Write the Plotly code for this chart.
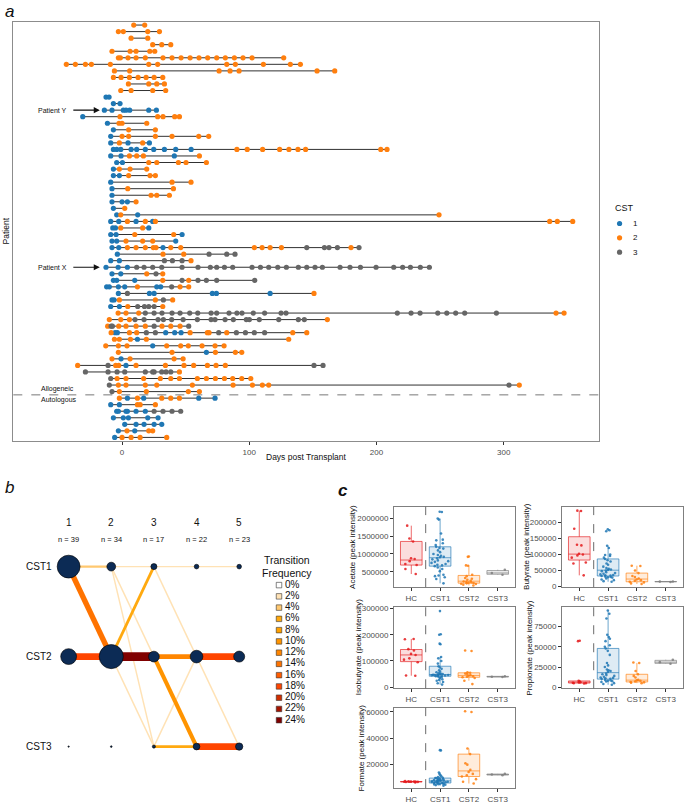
import plotly.graph_objects as go

W, H = 685, 804
FONT = "Liberation Sans, Arial, sans-serif"


def fx(p):
    return p / W


def fy(p):
    return 1 - p / H


# ---------------- Panel a data: sampling days per patient, split by CST ----------------
cst1_days = [
    [], [], [], [], [], [], [], [], [], [], [],
    [-12.6, -10.2],
    [-6.8, -1.6],
    [-13.9, -7.9, 1.0, 3.1, 6.0, 21.0, 27.0],
    [-30.9],
    [-11.5],
    [-6.8],
    [-8.9],
    [-8.9, 4.7, 21.5],
    [-6.8, -4.2, -1.0, 7.1, 11.5, 18.3, 24.9, 33.3, 42.2, 54.3],
    [-8.9, -0.8, 41.1],
    [-4.2, 0.3],
    [-6.8],
    [-6.8, -2.1],
    [-8.9],
    [-7.9],
    [-7.9],
    [-7.9, 0.0, 4.2],
    [-6.8],
    [-4.2, 12.3],
    [-8.9, -2.6, 11.0, 24.1],
    [-7.3, -5.2, 21.0],
    [-8.9, -4.7, 47.2],
    [-7.9, -4.2, 42.2],
    [-7.9, -2.6, 32.2],
    [-3.7],
    [-8.9, -2.1],
    [-12.6, -3.1, 4.2],
    [-7.9, -1.0],
    [-6.8, -4.2, 10.0],
    [-12.1, -10.0, -2.9, 2.1, 27.3, 30.4],
    [-2.9, 21.5, 25.2, 71.0, 74.2, 116.4],
    [-7.9, -6.3],
    [-8.9, -2.1],
    [], [], [],
    [-5.5, -3.7, 34.3, 41.4, 46.4],
    [12.1],
    [24.1],
    [66.3],
    [-0.8],
    [3.1],
    [], [], [], [],
    [4.2, 17.0, 60.3, 73.1],
    [-8.9, -2.1],
    [-4.2, -2.9, 3.1, 4.2, 11.0, 18.3],
    [-6.8, 1.0, 5.0, 20.2, 28.3],
    [2.1, 11.0, 17.3, 25.2, 31.2],
    [-2.9, 10.0],
    [-5.8],
]

cst2_days = [
    [9.2, 17.8],
    [-2.9, 1.0, 20.2, 29.4],
    [7.1, 20.2],
    [24.1, 31.2, 38.3],
    [-7.9, 6.3, 11.0, 21.8, 25.7],
    [-2.9, -1.3, 4.7, 11.0, 18.3, 32.2, 39.3, 46.4, 53.5, 60.5, 67.3, 74.4, 81.2, 88.3, 95.1, 102.2, 127.1],
    [-43.8, -36.7, -28.8, -24.1, -9.2, 21.0, 28.0, 82.3, 89.1, 111.1, 132.3, 140.2],
    [-6.0, 6.0, 76.3, 84.9, 92.0, 153.3, 167.2],
    [-6.8, -0.8, 5.8, 12.6, 18.9, 25.2, 32.0],
    [5.0, 21.0, 27.3, 33.3],
    [-1.0, 7.1, 24.1, 34.3],
    [],
    [],
    [],
    [-1.6, 28.0, 32.2, 41.4, 45.1],
    [-2.4, 0.0, 19.4],
    [5.2, 26.2],
    [0.0, 5.2, 26.2, 39.3, 60.3, 68.1],
    [-2.1, 16.2],
    [90.3, 98.4, 110.5, 123.9, 131.2, 138.3, 144.3, 203.4, 208.3],
    [5.8, 11.5, 16.8, 60.8],
    [21.0, 27.3, 44.3, 50.3, 66.3],
    [-2.1, 6.3, 19.4],
    [5.2, 22.0, 26.2],
    [39.3, 54.2],
    [4.5, 40.4],
    [22.8, 27.3, 37.2],
    [11.0],
    [2.1],
    [-1.0, 249.2],
    [4.2, 18.3, 26.2, 336.2, 342.2, 354.3],
    [-1.0, 16.2],
    [10.0, 40.6],
    [3.1, 16.2, 24.1],
    [4.2, 11.0, 18.3, 24.6, 26.7, 38.3, 46.1, 104.0, 110.1, 116.4, 125.3, 180.0],
    [32.2, 48.5],
    [54.2],
    [],
    [19.4, 32.0],
    [32.0, 52.4],
    [12.1, 45.6, 52.4],
    [150.9],
    [-2.1, 26.2, 39.8],
    [4.5, 32.0],
    [-3.1, 3.1, 13.1, 341.2, 347.5],
    [-10.0, -1.0, 5.8, 161.4],
    [-11.3, -2.6, 3.1, 11.0, 18.3, 31.4, 38.3, 45.6],
    [-8.6, 5.8, 11.5, 53.5, 67.1, 68.4, 82.3, 134.2, 145.2],
    [-6.0, -2.1, 6.6, 19.1, 131.0],
    [-12.8, -2.9, 3.9, 35.1, 46.1, 52.1, 62.9, 73.1, 80.2],
    [-2.9, 39.3, 73.4, 89.1, 94.1],
    [-7.9, 6.3, 40.9, 48.0],
    [-34.9, -5.0, -2.6, 11.0, 34.1, 48.7, 56.3, 67.1, 73.9, 81.2],
    [45.1],
    [-3.9, 3.1, 17.0, 30.1, 38.3, 45.1, 59.2, 66.3, 73.4, 80.5, 87.0, 94.1, 101.2],
    [-2.9, 3.1, 18.3, 27.3, 55.3, 87.3, 102.5, 110.3, 115.3, 312.3],
    [-2.1, 19.1, 52.1, 60.8],
    [-2.1, 12.1, 31.2, 38.3, 45.1],
    [12.1, 14.2, 26.2],
    [],
    [],
    [],
    [3.9, 21.0, 24.1],
    [0.0, 7.1, 14.2, 35.1],
]

cst3_days = [
    [], [], [], [], [], [], [], [], [], [],
    [], [], [], [], [], [], [], [], [], [],
    [], [], [], [], [], [], [], [], [], [],
    [], [], [], [],
    [145.2, 159.1, 162.7, 169.3, 186.3],
    [68.4, 82.3, 88.8],
    [33.3, 39.6, 47.2],
    [11.5, 17.3, 24.1, 31.2, 47.2, 59.7, 69.4, 74.4, 80.5, 87.0, 102.2, 108.8, 115.3, 122.4,
     129.2, 138.6, 145.2, 151.7, 157.5, 171.4, 179.2, 187.4, 199.7, 213.6, 220.6, 226.7, 234.5, 241.6],
    [26.7],
    [47.2, 59.7, 66.3, 74.4, 104.3],
    [39.0],
    [4.2],
    [32.5],
    [12.3, 17.6, 21.0, 25.2],
    [18.3, 25.2, 31.4, 39.3, 45.6, 53.2, 59.5, 70.0, 74.4, 84.1, 90.3, 94.3, 103.2, 112.1, 125.0,
     128.9, 216.4, 227.2, 234.3, 248.2, 255.3, 262.3, 269.4, 294.3],
    [10.2, 17.3, 28.3, 32.5, 39.0, 48.0, 59.2, 70.0, 73.1, 81.0, 87.5, 97.7, 100.1, 107.9, 123.2,
     138.6, 143.3],
    [-8.6, -7.6, 25.2, 52.4],
    [19.1, 26.2, 76.0, 89.9, 97.0, 104.0, 112.1],
    [],
    [],
    [],
    [],
    [-11.0, 150.9, 158.0],
    [-28.8, -11.0, -3.9, 2.1, 18.3, 24.1, 25.2, 31.2, 34.6, 38.3],
    [-8.9],
    [-10.0, 304.2],
    [-7.9],
    [],
    [],
    [25.2, 32.2, 39.3, 46.1],
    [],
    [],
    [],
    [],
]

n_allogeneic = 57
patient_x_row = 38
patient_y_row = 14
cst_colors = ["#1F77B4", "#FF7F0E", "#666666"]
cst_labels = ["1", "2", "3"]

# ---------------- Panel b data ----------------
timepoints = [1, 2, 3, 4, 5]
timepoint_n = [39, 34, 17, 22, 23]
node_weight = {  # per CST (1,2,3) per timepoint
    1: [27, 4, 1.9, 1.1, 1.1],
    2: [13, 30, 6, 8.3, 6.3],
    3: [0.1, 0.15, 0.5, 2.3, 2.8],
}
edge_time = [1, 1, 1, 2, 2, 2, 2, 2, 2, 3, 3, 3, 3, 3, 3, 4, 4, 4, 4]
edge_from = [1, 1, 2, 1, 1, 1, 2, 2, 2, 1, 1, 2, 2, 3, 3, 1, 2, 2, 3]
edge_to = [1, 2, 2, 1, 2, 3, 1, 2, 3, 1, 2, 2, 3, 2, 3, 1, 2, 3, 3]
edge_freq = [4, 14, 18, 2, 2, 2, 6, 24, 2, 2, 2, 12, 10, 2, 6, 2, 18, 2, 18]
freq_levels = [0, 2, 4, 6, 8, 10, 12, 14, 16, 18, 20, 22, 24]
freq_colors = ["#FFFFFF", "#FFE2B5", "#FFC870", "#FFA90F", "#FFA000", "#FF9400", "#FF8600",
               "#FF7300", "#FF5C00", "#FF4500", "#D02E00", "#A61500", "#800000"]

# ---------------- Panel c data ----------------
groups = ["HC", "CST1", "CST2", "CST3"]
group_colors = ["#E41A1C", "#1F77B4", "#FF7F0E", "#7F7F7F"]

acetate = {
    "HC": [440000, 580000, 690000, 720000, 800000, 860000, 880000, 1350000, 1430000, 1790000],
    "CST1": [2180000, 2170000, 1990000, 1960000, 1570000, 1400000, 1380000, 1300000, 1250000, 1200000,
             1170000, 1150000, 1100000, 1050000, 1000000, 970000, 950000, 920000, 910000,
             880000, 850000, 820000, 800000, 780000, 750000, 720000, 700000, 680000, 660000,
             620000, 580000, 520000, 420000, 400000, 380000, 350000, 300000, 180000],
    "CST2": [930000, 920000, 680000, 670000, 420000, 380000, 330000, 310000, 280000, 250000,
             230000, 220000, 210000, 200000, 190000, 180000, 170000, 160000, 140000, 120000],
    "CST3": [420000, 470000, 560000],
}
butyrate = {
    "HC": [236000, 235000, 180000, 130000, 128000, 102000, 100000, 97000, 90000, 75000, 72000, 35000],
    "CST1": [178000, 175000, 172000, 127000, 120000, 100000, 98000, 95000, 90000, 86000,
             82000, 78000, 72000, 68000, 62000, 58000, 55000, 53000, 52000,
             50000, 48000, 45000, 42000, 40000, 38000, 36000, 35000, 34000, 33000,
             31000, 30000, 29000, 28000, 25000, 22000, 20000, 17000, 15000],
    "CST2": [65000, 64000, 50000, 42000, 33000, 30000, 25000, 22000, 20000, 18000, 15000, 13000, 10000, 8000],
    "CST3": [14500, 15500, 16000],
}
isobutyrate = {
    "HC": [184000, 183000, 145000, 140000, 127000, 123000, 110000, 105000, 95000, 45000, 44000],
    "CST1": [290000, 202000, 200000, 166000, 164000, 115000, 110000, 100000, 90000, 80000,
             75000, 70000, 65000, 60000, 57000, 54000, 52000, 50000, 49000,
             48000, 47500, 47000, 46500, 46000, 45500, 45000, 44000, 43000, 42000,
             40000, 38000, 35000, 30000, 28000, 25000, 20000, 15000, 10000],
    "CST2": [140000, 138000, 57000, 55000, 52000, 50000, 46000, 44000, 42000, 40000, 38000, 35000, 25000, 12000],
    "CST3": [39000, 40000, 42000],
}
propionate = {
    "HC": [57500, 57000, 8000, 7000, 6500, 6000, 6000, 5500, 5000, 5000, 4500],
    "CST1": [95000, 91000, 85000, 65000, 62000, 60000, 57000, 52000, 50000, 48000,
             45000, 40000, 30000, 27000, 25000, 22000, 21000, 20000, 19000,
             17000, 16000, 15000, 14000, 13000, 12000, 11500, 11000, 10500, 10000,
             9000, 8500, 8000, 7500, 7000, 6500, 5000, 4000, 3000],
    "CST2": [30500, 30000, 20000, 16000, 14000, 12000, 9000, 8500, 8000, 7000, 6500, 6000, 5500, 5000],
    "CST3": [29000, 31000, 34000],
}
formate = {
    "HC": [6500, 6800, 7000, 7000, 7100, 7200, 7300, 7500, 6900, 7100],
    "CST1": [31000, 30800, 14000, 13000, 12000, 11000, 10500, 10000, 9900, 9800,
             9500, 9000, 8800, 8500, 8300, 8100, 8000, 7900, 7800,
             7600, 7400, 7200, 7000, 6900, 6800, 6700, 6500, 6300, 6100,
             6000, 5800, 5600, 5400, 5200, 5000, 4800, 4500, 4000],
    "CST2": [60500, 60000, 32200, 28000, 21000, 20000, 16000, 14500, 13000, 12000, 11000, 9000, 7000, 5700],
    "CST3": [12000, 12500, 13000],
}

fig = go.Figure()
annotations = []
shapes = []
layout_axes = {}


def note(text, x, y, xref="paper", yref="paper", size=8, xanchor="center", yanchor="middle", **kw):
    d = dict(text=text, x=x, y=y, xref=xref, yref=yref, showarrow=False, xanchor=xanchor,
             yanchor=yanchor, font=dict(size=size, color="#111"))
    d.update(kw)
    annotations.append(d)


# ================= Panel a =================
lx, ly = [], []
for i in range(len(cst2_days)):
    d = cst1_days[i] + cst2_days[i] + cst3_days[i]
    lx += [min(d), max(d), None]
    ly += [i + 1, i + 1, None]
fig.add_trace(go.Scatter(x=lx, y=ly, mode="lines", line=dict(color="#1a1a1a", width=0.9),
                         hoverinfo="skip", showlegend=False, xaxis="x", yaxis="y"))
for days, col in zip([cst1_days, cst2_days, cst3_days], cst_colors):
    xs, ys = [], []
    for i, d in enumerate(days):
        xs += d
        ys += [i + 1] * len(d)
    fig.add_trace(go.Scatter(x=xs, y=ys, mode="markers",
                             marker=dict(color=col, size=5.2, opacity=1, line=dict(width=0)),
                             showlegend=False, xaxis="x", yaxis="y"))

layout_axes["xaxis"] = dict(domain=[fx(13.3), fx(599.3)], range=[-85.5, 375.2], anchor="y",
                            tickvals=[0, 100, 200, 300], ticks="outside", ticklen=3, tickwidth=0.7,
                            tickcolor="#333", tickfont=dict(size=8, color="#4d4d4d"),
                            showline=True, mirror=True, linecolor="#8c8c8c", linewidth=1,
                            showgrid=False, zeroline=False)
layout_axes["yaxis"] = dict(domain=[fy(443.3), fy(19)], range=[64.6, 0.5], anchor="x",
                            showticklabels=False, ticks="", showline=True, mirror=True,
                            linecolor="#8c8c8c", linewidth=1, showgrid=False, zeroline=False)
shapes.append(dict(type="line", xref="x domain", x0=0, x1=1, yref="y",
                   y0=n_allogeneic + 0.5, y1=n_allogeneic + 0.5,
                   line=dict(color="#555", width=0.8, dash="dash")))

note("<i>a</i>", fx(3), fy(9), size=17, xanchor="left")
note("Days post Transplant", fx(306), fy(459), size=8.5)
note("Patient", fx(6), fy(231), size=8.5, textangle=-90)
note("Patient Y", fx(69), patient_y_row, yref="y", size=7, xanchor="right")
note("Patient X", fx(69), patient_x_row, yref="y", size=7, xanchor="right")
note("Allogeneic", fx(39), fy(390), size=7, xanchor="left")
note("Autologous", fx(39), fy(401.5), size=7, xanchor="left")
for row in [patient_y_row, patient_x_row]:
    annotations.append(dict(text="", x=-17.5, y=row, xref="x", yref="y", ax=-39.5, ay=row,
                            axref="x", ayref="y", showarrow=True, arrowhead=2, arrowsize=1.1,
                            arrowwidth=1.1, arrowcolor="#111"))

# CST legend (own little axis)
fig.add_trace(go.Scatter(x=[0, 0, 0], y=[1, 2, 3], mode="markers",
                         marker=dict(color=cst_colors, size=5.2, opacity=1), showlegend=False,
                         xaxis="x10", yaxis="y10", hoverinfo="skip"))
layout_axes["xaxis10"] = dict(domain=[fx(615), fx(650)], range=[-0.15, 1], visible=False, anchor="y10")
layout_axes["yaxis10"] = dict(domain=[fy(259.25), fy(215.75)], range=[3.5, 0.5], visible=False, anchor="x10")
for k, lab in enumerate(cst_labels):
    note(lab, fx(631), k + 1, yref="y10", size=8, xanchor="left")
note("CST", fx(612.5), fy(207.5), size=9, xanchor="left")

# ================= Panel b =================
order = sorted(range(len(edge_freq)), key=lambda k: edge_freq[k])
for k in order:
    f = edge_freq[k]
    col = freq_colors[freq_levels.index(f)]
    fig.add_trace(go.Scatter(x=[edge_time[k], edge_time[k] + 1], y=[edge_from[k], edge_to[k]],
                             mode="lines", line=dict(color=col, width=0.8 + 0.33 * f),
                             showlegend=False, hoverinfo="skip", xaxis="x2", yaxis="y2"))
nx, ny, ns = [], [], []
for c in [1, 2, 3]:
    for t, w in zip(timepoints, node_weight[c]):
        nx.append(t)
        ny.append(c)
        ns.append(4.4 * w ** 0.5)
fig.add_trace(go.Scatter(x=nx, y=ny, mode="markers",
                         marker=dict(size=ns, color="#0C2B55", opacity=1, line=dict(color="#000", width=0.6)),
                         showlegend=False, hoverinfo="skip", xaxis="x2", yaxis="y2"))
layout_axes["xaxis2"] = dict(domain=[fx(47.3), fx(260.5)], range=[0.5, 5.5], visible=False, anchor="y2")
layout_axes["yaxis2"] = dict(domain=[fy(797.5), fy(524.5)], range=[3.5, 0.5], visible=False, anchor="x2")
for t, n in zip(timepoints, timepoint_n):
    note(str(t), t, fy(525), xref="x2", size=10)
    note(f"n = {n}", t, fy(543), xref="x2", size=7.5)
for c in [1, 2, 3]:
    note(f"CST{c}", fx(54), c, yref="y2", size=10, xanchor="right")
note("<i>b</i>", fx(3), fy(490), size=17, xanchor="left")
note("Transition", fx(287), fy(563.5), size=10.5)
note("Frequency", fx(287), fy(576.5), size=10.5)
fig.add_trace(go.Scatter(x=[0] * len(freq_levels), y=freq_levels, mode="markers",
                         marker=dict(symbol="square", size=5.5, color=freq_colors, opacity=1,
                                     line=dict(color="#333", width=0.6)),
                         showlegend=False, hoverinfo="skip", xaxis="x9", yaxis="y9"))
fig.add_trace(go.Scatter(x=[0.75] * len(freq_levels), y=freq_levels, mode="text",
                         text=[f"{v}%" for v in freq_levels], textposition="middle right",
                         textfont=dict(size=10, color="#111"),
                         showlegend=False, hoverinfo="skip", xaxis="x9", yaxis="y9"))
layout_axes["xaxis9"] = dict(domain=[fx(275), fx(315)], range=[-0.5, 4.5], visible=False, anchor="y9")
layout_axes["yaxis9"] = dict(domain=[fy(731), fy(583)], range=[25, -1], visible=False, anchor="x9")

# ================= Panel c =================
panels = [
    ("Acetate (peak intensity)", acetate, (394, 515, 509.5, 590.7), [75000, 2317000],
     [500000, 1000000, 1500000, 2000000], 353),
    ("Butyrate (peak intensity)", butyrate, (562, 683, 509.5, 590.7), [-1500, 248000],
     [0, 50000, 100000, 150000, 200000], 527),
    ("Isobutyrate (peak intensity)", isobutyrate, (394, 515, 611, 693), [-3800, 305000],
     [0, 100000, 200000, 300000], 358.5),
    ("Propionate (peak intensity)", propionate, (562, 683, 611, 693), [-1300, 99100],
     [0, 25000, 50000, 75000], 530),
    ("Formate (peak intensity)", formate, (394, 515, 712.7, 794), [2200, 63200],
     [20000, 40000, 60000], 361.5),
]


def rgba(hexc, a):
    h = hexc.lstrip("#")
    r, g, b = int(h[0:2], 16), int(h[2:4], 16), int(h[4:6], 16)
    return f"rgba({r},{g},{b},{a})"


for p, (title, data, (x0, x1, y0, y1), yr, tv, tx) in enumerate(panels):
    ax = 3 + p
    xa, ya = f"x{ax}", f"y{ax}"
    for g, col in zip(groups, group_colors):
        vals = data[g]
        fig.add_trace(go.Box(x=[g] * len(vals), y=vals, name=g, boxpoints="all", jitter=0.85, pointpos=0,
                             width=0.75, whiskerwidth=0,
                             marker=dict(color=col, size=2.6, opacity=0.85),
                             line=dict(color=rgba(col, 0.65), width=1), fillcolor=rgba(col, 0.15),
                             showlegend=False, hoverinfo="skip", xaxis=xa, yaxis=ya))
    layout_axes[f"xaxis{ax}"] = dict(domain=[fx(x0), fx(x1)], anchor=ya, type="category",
                                     categoryorder="array", categoryarray=groups, range=[-0.6, 3.6],
                                     ticks="outside", ticklen=3, tickwidth=0.7, tickcolor="#333",
                                     tickfont=dict(size=8, color="#4d4d4d"), showline=True, mirror=True,
                                     linecolor="#7f7f7f", linewidth=1, showgrid=False, zeroline=False)
    layout_axes[f"yaxis{ax}"] = dict(domain=[fy(y1), fy(y0)], anchor=xa, range=yr, tickvals=tv,
                                     tickformat="d", ticks="outside", ticklen=3, tickwidth=0.7,
                                     tickcolor="#333", tickfont=dict(size=8, color="#4d4d4d"),
                                     showline=True, mirror=True, linecolor="#7f7f7f", linewidth=1,
                                     showgrid=False, zeroline=False)
    shapes.append(dict(type="line", xref=xa, x0=0.5, x1=0.5, yref=f"{ya} domain", y0=0, y1=1,
                       line=dict(color="#444", width=0.8, dash="dash")))
    note(title, fx(tx), fy((y0 + y1) / 2), size=8, textangle=-90)

note("<b><i>c</i></b>", fx(336), fy(493), size=17, xanchor="left")

fig.update_layout(width=W, height=H, margin=dict(l=0, r=0, t=0, b=0), autosize=False,
                  paper_bgcolor="white", plot_bgcolor="white", font=dict(family=FONT),
                  showlegend=False, annotations=annotations, shapes=shapes, boxmode="overlay",
                  **layout_axes)
fig.write_html("out.html", config={"displayModeBar": False},
               post_script="document.body.style.margin='0px';document.body.style.overflow='hidden';")
